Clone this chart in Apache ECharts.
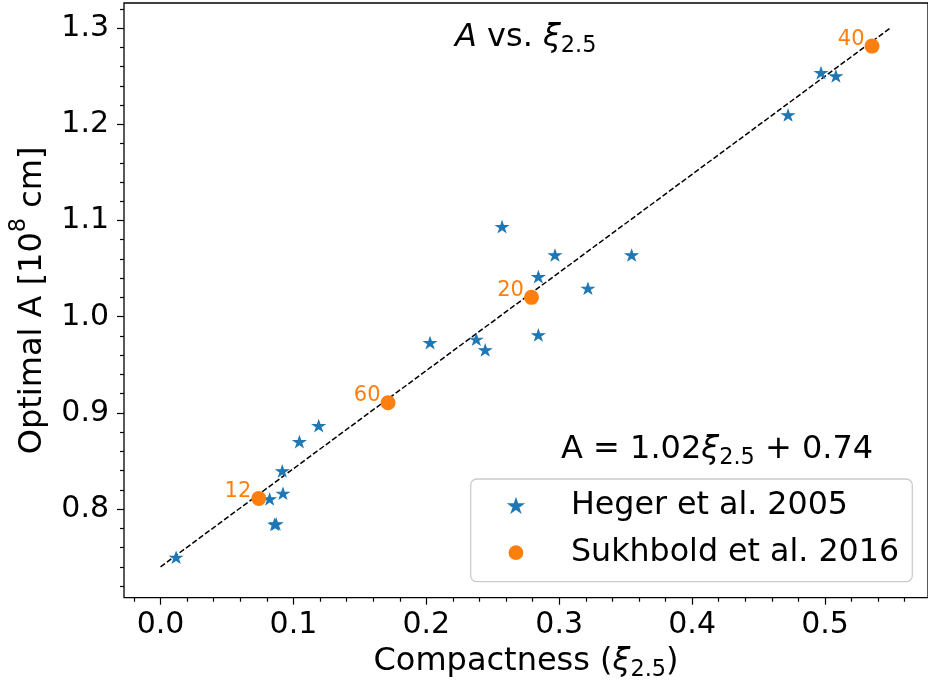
<!DOCTYPE html>
<html>
<head>
<meta charset="utf-8">
<script src="https://cdn.jsdelivr.net/npm/echarts@6/dist/echarts.min.js"></script>
<style>
  html, body { margin: 0; padding: 0; background: #fff; }
  #chart { width: 928px; height: 692px; }
</style>
</head>
<body>
<div id="chart"></div>
<script>
// Heger et al. 2005 progenitors: compactness and optimal A
const hegerName = 'Heger et al. 2005';
const hegerXi = [0.0117, 0.0821, 0.0916, 0.0921, 0.0858, 0.0870, 0.1045, 0.1190, 0.2028, 0.2376,
                 0.2443, 0.2570, 0.2843, 0.2968, 0.2843, 0.3216, 0.3545, 0.4722, 0.4970, 0.5082];
const hegerA  = [0.7498, 0.8104, 0.8395, 0.8163, 0.7841, 0.7845, 0.8700, 0.8866, 0.9729, 0.9764,
                 0.9653, 1.0935, 1.0415, 1.0640, 0.9809, 1.0294, 1.0640, 1.2096, 1.2535, 1.2501];

// Sukhbold et al. 2016 progenitors, labelled by mass
const sukhName = 'Sukhbold et al. 2016';
const sukhMass = [12, 60, 20, 40];
const sukhXi   = [0.0739, 0.1712, 0.2791, 0.5354];
const sukhA    = [0.8111, 0.9105, 1.0201, 1.2813];

// Linear fit A = slope * xi + intercept
const fitSlope = 1.02;
const fitIntercept = 0.74;
const fitXi = [0, 0.55];

// Axis ticks
const xTicks = [0.0, 0.1, 0.2, 0.3, 0.4, 0.5];
const yTicks = [0.8, 0.9, 1.0, 1.1, 1.2, 1.3];
const xRange = [-0.0275, 0.5775];
const yRange = [0.7079, 1.3261];

function minorTicks(kFrom, kTo, step) {
  const out = [];
  for (let k = kFrom; k <= kTo; k++) {
    if (k % 5 !== 0) out.push(Math.round(k * step * 1000) / 1000);
  }
  return out;
}
const xMinor = minorTicks(-1, 28, 0.02);
const yMinor = minorTicks(36, 66, 0.02);

const FONT = "'DejaVu Sans', sans-serif";
const BIG = 32;
const SMALL = 22.4;
// five-pointed star marker
const STAR_PATH = 'M0,-1L0.2245,-0.309L0.9511,-0.309L0.3633,0.118L0.5878,0.809L0,0.382L-0.5878,0.809L-0.3633,0.118L-0.9511,-0.309L-0.2245,-0.309Z';
const STAR = 'path://' + STAR_PATH;
// same star inside a wider invisible frame, so the legend icon keeps the marker size
const STAR_ICON = 'path://M-1.15,-1.2L-1.15,-1.2M1.15,1.1L1.15,1.1' + STAR_PATH;
const BLUE = '#1f77b4';
const ORANGE = '#ff7f0e';

// rich-text styles for axis names (ECharts label style)
const richLabel = {
  n:   { fontFamily: FONT, fontSize: BIG, color: '#000' },
  i:   { fontFamily: FONT, fontSize: BIG, color: '#000', fontStyle: 'italic' },
  sub: { fontFamily: FONT, fontSize: SMALL, color: '#000', padding: [17, 0, 0, 0] },
  sup: { fontFamily: FONT, fontSize: SMALL, color: '#000', padding: [0, 0, 27, 0] }
};
// rich-text styles for free text (zrender style)
const richText = {
  n:   { fontFamily: FONT, fontSize: BIG, fill: '#000' },
  i:   { fontFamily: FONT, fontSize: BIG, fill: '#000', fontStyle: 'italic' },
  sub: { fontFamily: FONT, fontSize: SMALL, fill: '#000', padding: [17, 0, 0, 0] }
};

const hegerData = hegerXi.map((x, i) => [x, hegerA[i]]);
const sukhData = sukhXi.map((x, i) => [x, sukhA[i], sukhMass[i]]);
const fitData = fitXi.map(x => [x, fitSlope * x + fitIntercept]);

const tickLine = { color: '#000', width: 1.2 };

const chart = echarts.init(document.getElementById('chart'), null, { renderer: 'canvas' });
chart.setOption({
  animation: false,
  backgroundColor: '#fff',
  grid: {
    left: 121.5, right: -4, top: 3, bottom: 94.3,
    show: true, borderColor: '#000', borderWidth: 1.3, backgroundColor: 'transparent'
  },
  xAxis: [
    {
      type: 'value', min: xRange[0], max: xRange[1], position: 'bottom',
      axisLine: { show: false, onZero: false },
      splitLine: { show: false },
      axisTick: { show: true, customValues: xTicks, length: 7, lineStyle: tickLine },
      axisLabel: {
        customValues: xTicks, formatter: v => v.toFixed(1),
        fontFamily: FONT, fontSize: 30, color: '#000', margin: 13
      },
      name: '{n|Compactness (}{i|ξ}{sub|2.5}{n|)}',
      nameLocation: 'middle', nameGap: 44,
      nameTextStyle: { rich: richLabel }
    },
    {
      type: 'value', min: xRange[0], max: xRange[1], position: 'bottom',
      axisLine: { show: false, onZero: false },
      splitLine: { show: false },
      axisTick: { show: true, customValues: xMinor, length: 4, lineStyle: tickLine },
      axisLabel: { show: false }
    }
  ],
  yAxis: [
    {
      type: 'value', min: yRange[0], max: yRange[1], position: 'left',
      axisLine: { show: false, onZero: false },
      splitLine: { show: false },
      axisTick: { show: true, customValues: yTicks, length: 7, lineStyle: tickLine },
      axisLabel: {
        customValues: yTicks, formatter: v => v.toFixed(1),
        fontFamily: FONT, fontSize: 30, color: '#000', margin: 15
      },
      name: '{n|Optimal A [10}{sup|8}{n| cm]}',
      nameLocation: 'middle', nameGap: 67,
      nameTextStyle: { rich: richLabel }
    },
    {
      type: 'value', min: yRange[0], max: yRange[1], position: 'left',
      axisLine: { show: false, onZero: false },
      splitLine: { show: false },
      axisTick: { show: true, customValues: yMinor, length: 4, lineStyle: tickLine },
      axisLabel: { show: false }
    }
  ],
  legend: {
    orient: 'vertical', left: 507.6, top: 490, padding: 0,
    itemWidth: 100, itemHeight: 14.7, itemGap: 14.7,
    selectedMode: false, z: 10,
    textStyle: { fontFamily: FONT, fontSize: 31.7, color: '#000', lineHeight: 32 },
    data: [
      { name: hegerName, icon: STAR_ICON },
      { name: sukhName, icon: 'circle' }
    ]
  },
  graphic: [
    {
      type: 'rect', z: 5, silent: true,
      shape: { x: 470.7, y: 479, width: 441.6, height: 102.7, r: 6 },
      style: { fill: 'rgba(255,255,255,0.8)', stroke: '#cccccc', lineWidth: 1.3 }
    },
    {
      type: 'text', z: 6, silent: true, x: 455, y: 38,
      style: {
        text: '{i|A}{n| vs. }{i|ξ}{sub|2.5}',
        rich: richText, align: 'left', verticalAlign: 'middle'
      }
    },
    {
      type: 'text', z: 6, silent: true, x: 561, y: 449.5,
      style: {
        text: '{n|A = ' + fitSlope.toFixed(2) + '}{i|ξ}{sub|2.5}{n| + ' + fitIntercept.toFixed(2) + '}',
        rich: richText, align: 'left', verticalAlign: 'middle'
      }
    }
  ],
  series: [
    {
      name: 'fit', type: 'line', data: fitData, showSymbol: false, silent: true,
      lineStyle: { color: '#000', width: 1.5, type: [5.5, 2.4] }, z: 1
    },
    {
      name: hegerName, type: 'scatter', data: hegerData,
      symbol: STAR, symbolSize: [12, 11.4], symbolKeepAspect: true,
      itemStyle: { color: BLUE, borderColor: BLUE, borderWidth: 1, opacity: 1 }, z: 2
    },
    {
      name: sukhName, type: 'scatter', data: sukhData,
      symbol: 'circle', symbolSize: 15,
      itemStyle: { color: ORANGE, opacity: 1 }, z: 3,
      label: {
        show: true, position: 'left', distance: 0, offset: [0, -7],
        formatter: p => String(p.data[2]),
        fontFamily: FONT, fontSize: 21, color: ORANGE
      }
    }
  ]
});
</script>
</body>
</html>
